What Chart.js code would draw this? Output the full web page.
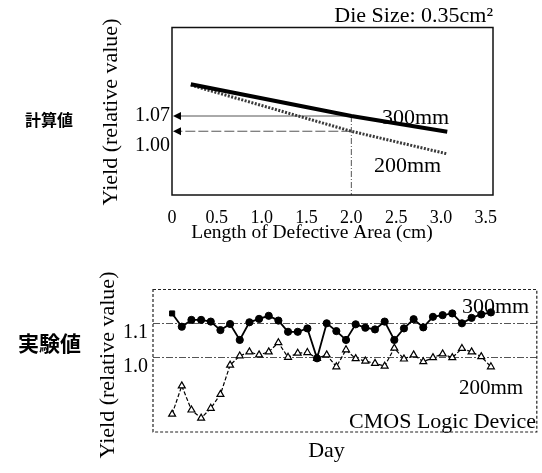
<!DOCTYPE html>
<html><head><meta charset="utf-8">
<script src="https://cdn.jsdelivr.net/npm/chart.js@4/dist/chart.umd.min.js"></script>
<style>
html,body{margin:0;padding:0;background:#fff;}
#wrap{position:relative;width:542px;height:473px;overflow:hidden;}
#c1{position:absolute;left:0;top:0;}
#c2{position:absolute;left:0;top:250px;}
.lab{position:absolute;font-family:"Noto Sans CJK JP";font-weight:bold;color:#000;white-space:nowrap;}
</style></head><body>
<div id="wrap">
<canvas id="c1" width="542" height="250"></canvas>
<canvas id="c2" width="542" height="223"></canvas>
<div class="lab" style="left:25px;top:107px;font-size:16px;line-height:24px">計算値</div>
<div class="lab" style="left:18px;top:327px;font-size:21px;line-height:30px">実験値</div>
</div>
<script>
// ---- calculated (top) ----
const xTicksTop = [0, 0.5, 1.0, 1.5, 2.0, 2.5, 3.0, 3.5];
const yTicksTop = [1.07, 1.00];
const lengthX = [0.21, 2.0, 3.07];
const yield300calc = [1.142, 1.069, 1.033];
const yield200calc = [1.140, 1.034, 0.982];
const arrowAtLength = 2.0;

// ---- experimental (bottom) ----
const days = [1,2,3,4,5,6,7,8,9,10,11,12,13,14,15,16,17,18,19,20,21,22,23,24,25,26,27,28,29,30,31,32,33,34];
const yield300exp = [1.129,1.090,1.110,1.110,1.105,1.080,1.098,1.051,1.103,1.113,1.122,1.108,1.075,1.075,1.085,0.997,1.100,1.077,1.051,1.097,1.087,1.082,1.105,1.051,1.085,1.112,1.088,1.119,1.124,1.129,1.100,1.116,1.126,1.132];
const yield200exp = [0.833,0.916,0.845,0.821,0.850,0.891,0.977,1.004,1.016,1.007,1.016,1.043,1.000,1.012,1.014,0.997,1.007,0.972,1.022,0.996,0.989,0.982,0.974,1.027,0.995,1.007,0.987,0.999,1.010,0.999,1.026,1.016,1.002,0.972];
const yTicksBottom = [1.1, 1.0];

const SERIF = '"Liberation Serif", "Times New Roman", serif';
function txt(ctx, s, x, y, size, align) {
  ctx.font = size + 'px ' + SERIF;
  ctx.fillStyle = '#000';
  ctx.textAlign = align || 'left';
  ctx.textBaseline = 'middle';
  ctx.fillText(s, x, y);
}
function vtxt(ctx, s, x, y, size) {
  ctx.save();
  ctx.translate(x, y);
  ctx.rotate(-Math.PI / 2);
  txt(ctx, s, 0, 0, size, 'center');
  ctx.restore();
}

const topDecor = {
  id: 'topDecor',
  beforeDatasetsDraw(chart) {
    const {ctx, chartArea: a, scales: {x, y}} = chart;
    const px = x.getPixelForValue(arrowAtLength);
    const iA = lengthX.indexOf(arrowAtLength);
    const p300 = y.getPixelForValue(yield300calc[iA]);
    const p200 = y.getPixelForValue(yield200calc[iA]);
    ctx.save();
    ctx.strokeStyle = '#555';
    ctx.lineWidth = 1;
    ctx.setLineDash([6, 2, 1, 2]);
    ctx.beginPath(); ctx.moveTo(px, p300); ctx.lineTo(px, a.bottom); ctx.stroke();
    ctx.setLineDash([]);
    ctx.beginPath(); ctx.moveTo(px, p300); ctx.lineTo(a.left + 6, p300); ctx.stroke();
    ctx.setLineDash([10, 3]);
    ctx.beginPath(); ctx.moveTo(px, p200); ctx.lineTo(a.left + 6, p200); ctx.stroke();
    ctx.setLineDash([]);
    ctx.fillStyle = '#000';
    [p300, p200].forEach(p => {
      ctx.beginPath();
      ctx.moveTo(a.left + 1, p);
      ctx.lineTo(a.left + 9, p - 4);
      ctx.lineTo(a.left + 9, p + 4);
      ctx.closePath(); ctx.fill();
    });
    ctx.restore();
  },
  afterDraw(chart) {
    const {ctx, chartArea: a} = chart;
    ctx.save();
    ctx.strokeStyle = '#111';
    ctx.lineWidth = 1.5;
    ctx.strokeRect(a.left, a.top, a.right - a.left, a.bottom - a.top);
    txt(ctx, 'Die Size: 0.35cm\u00B2', a.right, 16, 22, 'right');
    txt(ctx, '300mm', 382, 118, 22);
    txt(ctx, '200mm', 374, 166, 22);
    txt(ctx, 'Length of Defective Area (cm)', 312, 233, 19.5, 'center');
    vtxt(ctx, 'Yield (relative value)', 111, 112, 22);
    ctx.restore();
  }
};

new Chart(document.getElementById('c1'), {
  type: 'line',
  data: {
    datasets: [
      {label: '300mm', data: lengthX.map((v, i) => ({x: v, y: yield300calc[i]})),
       borderColor: '#000', borderWidth: 4, pointRadius: 0, tension: 0},
      {label: '200mm', data: lengthX.map((v, i) => ({x: v, y: yield200calc[i]})),
       borderColor: '#3a3a3a', borderWidth: 3, borderDash: [2, 1.5], pointRadius: 0, tension: 0}
    ]
  },
  options: {
    responsive: false, animation: false,
    layout: {padding: {left: 0, right: 49, top: 27.5, bottom: 0}},
    plugins: {legend: {display: false}, tooltip: {enabled: false}},
    scales: {
      x: {type: 'linear', min: 0, max: 3.58,
        afterFit(s) { s.height = 55; },
        afterBuildTicks(s) { s.ticks = xTicksTop.map(v => ({value: v})); },
        grid: {display: false, drawTicks: false}, border: {display: false},
        ticks: {padding: 12.5, color: '#000', autoSkip: false, maxRotation: 0,
          font: {family: SERIF, size: 18},
          callback: v => v === 0 ? '0' : Number(v).toFixed(1)}},
      y: {type: 'linear', min: 0.8875, max: 1.2724,
        afterFit(s) { s.width = 172; },
        afterBuildTicks(s) { s.ticks = yTicksTop.map(v => ({value: v})); },
        grid: {display: false, drawTicks: false}, border: {display: false},
        ticks: {padding: 2, color: '#000', font: {family: SERIF, size: 20},
          callback: v => Number(v).toFixed(2)}}
    }
  },
  plugins: [topDecor]
});

const bottomDecor = {
  id: 'bottomDecor',
  afterDraw(chart) {
    const {ctx, chartArea: a} = chart;
    ctx.save();
    ctx.strokeStyle = '#222';
    ctx.lineWidth = 1.2;
    ctx.setLineDash([3, 2]);
    ctx.strokeRect(a.left, a.top, a.right - a.left, a.bottom - a.top);
    ctx.setLineDash([]);
    txt(ctx, '300mm', 462, 57, 22);
    txt(ctx, '200mm', 459, 138, 21);
    txt(ctx, 'CMOS Logic Device', 536, 172, 22, 'right');
    txt(ctx, 'Day', 326.5, 201, 22, 'center');
    vtxt(ctx, 'Yield (relative value)', 108, 115, 22);
    ctx.restore();
  }
};

new Chart(document.getElementById('c2'), {
  type: 'line',
  data: {
    datasets: [
      {label: '300mm', data: days.map((d, i) => ({x: d, y: yield300exp[i]})),
       borderColor: '#000', borderWidth: 1.8, tension: 0,
       pointStyle: c => c.dataIndex === 0 ? 'rect' : 'circle',
       pointRadius: 3.6, pointBackgroundColor: '#000', pointBorderColor: '#000', pointBorderWidth: 1},
      {label: '200mm', data: days.map((d, i) => ({x: d, y: yield200exp[i]})),
       borderColor: '#000', borderWidth: 1.2, borderDash: [4, 2], tension: 0,
       pointStyle: 'triangle', pointRadius: 4, pointBackgroundColor: '#fff',
       pointBorderColor: '#000', pointBorderWidth: 1.2}
    ]
  },
  options: {
    responsive: false, animation: false,
    layout: {padding: {left: 0, right: 2.5, top: 39.5, bottom: 0}},
    plugins: {legend: {display: false}, tooltip: {enabled: false}},
    scales: {
      x: {type: 'linear', min: -0.98, max: 38.75,
        afterFit(s) { s.height = 41; },
        ticks: {display: false},
        grid: {display: false, drawTicks: false}, border: {display: false}},
      y: {type: 'linear', min: 0.7803, max: 1.1994,
        afterFit(s) { s.width = 153; },
        afterBuildTicks(s) { s.ticks = yTicksBottom.map(v => ({value: v})); },
        grid: {color: '#555', lineWidth: 1, drawTicks: false},
        border: {display: false, dash: [7, 2, 2, 2]},
        ticks: {padding: 5, labelOffset: 9.5, color: '#000', font: {family: SERIF, size: 20},
          callback: v => Number(v).toFixed(1)}}
    }
  },
  plugins: [bottomDecor]
});
</script>
</body></html>
